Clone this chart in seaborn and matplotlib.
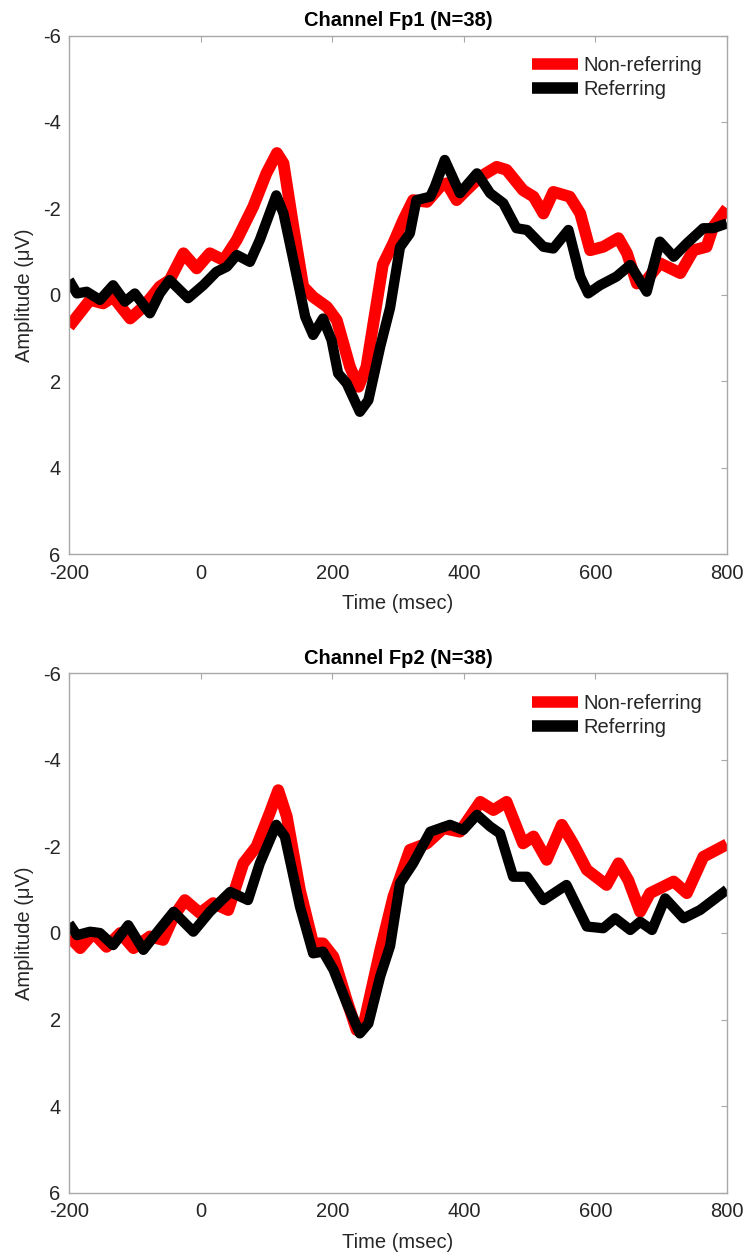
import numpy as np
import pandas as pd
import matplotlib
matplotlib.use("Agg")
import matplotlib.pyplot as plt
from matplotlib.lines import Line2D
import seaborn as sns

# ---------------- data ----------------
fp1_nonref_t = [-200, -168, -148, -133, -107, -87, -62, -47, -26, -6, 14, 35, 55, 80, 100, 116, 126, 141,
                156, 171, 192, 207, 227, 240, 252, 277, 293, 308, 323, 344, 364, 374, 389, 404, 425, 450,
                465, 490, 506, 521, 536, 561, 577, 592, 612, 635, 648, 663, 678, 698, 729, 749, 769, 779, 800]
fp1_nonref_amp = [0.74, 0.12, 0.2, 0.05, 0.55, 0.28, -0.19, -0.34, -0.96, -0.61, -0.96, -0.8, -1.27, -2.04,
                  -2.81, -3.28, -3.04, -1.57, -0.19, 0.05, 0.28, 0.59, 1.67, 2.13, 1.67, -0.7, -1.2, -1.73,
                  -2.19, -2.15, -2.5, -2.58, -2.19, -2.42, -2.73, -2.96, -2.89, -2.42, -2.27, -1.88, -2.38,
                  -2.27, -1.88, -1.03, -1.11, -1.31, -0.96, -0.26, -0.34, -0.73, -0.5, -1.03, -1.11, -1.57, -2.0]

fp1_ref_t = [-200, -188, -173, -153, -133, -115, -100, -77, -62, -47, -19, 4, 24, 40, 55, 75, 90, 115, 126,
             141, 159, 171, 186, 199, 209, 222, 242, 255, 273, 288, 303, 318, 328, 349, 356, 371, 394, 420,
             440, 460, 480, 496, 521, 536, 559, 577, 589, 607, 632, 653, 678, 698, 719, 739, 764, 779, 800]
fp1_ref_amp = [-0.34, -0.03, -0.07, 0.12, -0.22, 0.16, -0.03, 0.43, -0.03, -0.34, 0.08, -0.22, -0.53, -0.65,
               -0.92, -0.76, -1.27, -2.3, -1.88, -0.8, 0.51, 0.93, 0.55, 1.05, 1.82, 2.05, 2.71, 2.44, 1.2,
               0.3, -1.1, -1.42, -2.19, -2.27, -2.5, -3.12, -2.35, -2.81, -2.35, -2.12, -1.54, -1.5, -1.11,
               -1.07, -1.5, -0.42, -0.03, -0.22, -0.42, -0.69, -0.07, -1.23, -0.88, -1.19, -1.54, -1.54, -1.65]

fp2_nonref_t = [-200, -183, -163, -143, -122, -102, -77, -57, -41, -24, -1, 19, 42, 65, 85, 105, 118, 131,
                151, 171, 186, 202, 222, 237, 247, 273, 293, 318, 344, 369, 394, 425, 445, 465, 490, 506,
                526, 549, 566, 587, 617, 635, 650, 668, 683, 719, 739, 764, 800]
fp2_nonref_amp = [0.08, 0.35, 0.0, 0.32, 0.0, 0.35, 0.08, 0.16, -0.38, -0.76, -0.46, -0.69, -0.53, -1.61,
                  -2.0, -2.77, -3.3, -2.69, -0.99, 0.24, 0.24, 0.55, 1.55, 2.24, 2.17, 0.4, -0.84, -1.92,
                  -2.07, -2.42, -2.34, -3.03, -2.84, -3.03, -2.07, -2.23, -1.69, -2.5, -2.07, -1.46, -1.11,
                  -1.61, -1.22, -0.49, -0.92, -1.19, -0.92, -1.76, -2.05]

fp2_ref_t = [-200, -188, -168, -153, -133, -110, -87, -67, -41, -11, 14, 45, 72, 90, 115, 128, 151, 171,
             186, 202, 222, 242, 255, 273, 288, 303, 323, 349, 379, 399, 420, 440, 455, 475, 496, 521, 556,
             587, 612, 630, 653, 668, 686, 706, 734, 759, 800]
fp2_ref_amp = [-0.22, 0.05, -0.03, 0.0, 0.28, -0.18, 0.39, 0.0, -0.49, -0.03, -0.49, -0.95, -0.76, -1.61,
               -2.5, -2.23, -0.61, 0.47, 0.43, 0.85, 1.62, 2.32, 2.09, 1.0, 0.3, -1.15, -1.61, -2.34, -2.5,
               -2.38, -2.73, -2.46, -2.3, -1.3, -1.3, -0.76, -1.11, -0.15, -0.11, -0.34, -0.07, -0.26, -0.07,
               -0.8, -0.34, -0.53, -1.0]

titles = ["Channel Fp1 (N=38)", "Channel Fp2 (N=38)"]
condition_labels = ["Non-referring", "Referring"]
x_ticks = [-200, 0, 200, 400, 600, 800]
y_ticks = [-6, -4, -2, 0, 2, 4, 6]
x_label = "Time (msec)"
y_label = "Amplitude (\u03bcV)"

# ---------------- style ----------------
sns.set_theme(style="white")
plt.rcParams["font.family"] = ["Liberation Sans", "DejaVu Sans"]
plt.rcParams["axes.unicode_minus"] = False

W, H = 747, 1254
fig = plt.figure(figsize=(W / 100, H / 100), dpi=100)
left, right = 69, 727
panels = [(35.5, 554.0), (673.3, 1192.7)]

spine_col = "#a8a8a8"
text_col = "#262626"
colors = {"Non-referring": "#ff0000", "Referring": "#000000"}
widths = {"Non-referring": 8.5, "Referring": 7.4}

series = [
    [(fp1_nonref_t, fp1_nonref_amp), (fp1_ref_t, fp1_ref_amp)],
    [(fp2_nonref_t, fp2_nonref_amp), (fp2_ref_t, fp2_ref_amp)],
]

for i, (top, bot) in enumerate(panels):
    ax = fig.add_axes([left / W, 1 - bot / H, (right - left) / W, (bot - top) / H])
    for lab, (t, a) in zip(condition_labels, series[i]):
        df = pd.DataFrame({"Time": t, "Amplitude": a})
        sns.lineplot(data=df, x="Time", y="Amplitude", ax=ax, color=colors[lab],
                     linewidth=widths[lab], estimator=None, sort=False, legend=False)
    for ln in ax.lines:
        ln.set_solid_joinstyle("round")
        ln.set_solid_capstyle("butt")
    ax.set_xlim(-200, 800)
    ax.set_ylim(6, -6)
    ax.set_xticks(x_ticks)
    ax.set_yticks(y_ticks)
    ax.set_xticklabels([str(v) for v in x_ticks])
    ax.set_yticklabels([str(v) for v in y_ticks])
    for s in ax.spines.values():
        s.set_visible(True)
        s.set_color(spine_col)
        s.set_linewidth(1.0)
    ax.tick_params(axis="both", direction="in", top=True, right=True, length=4.5, width=0.8,
                   color=spine_col, labelsize=14.5, labelcolor=text_col)
    ax.tick_params(axis="x", pad=7)
    ax.tick_params(axis="y", pad=6)
    ax.set_xlabel(x_label, fontsize=14.5, color=text_col, labelpad=8)
    ax.set_ylabel(y_label, fontsize=14.5, color=text_col, labelpad=6)
    ax.set_title(titles[i], fontsize=14.5, fontweight="bold", color="black", pad=7)
    handles = [Line2D([], [], color=colors[l], lw=8.3, solid_capstyle="butt") for l in condition_labels]
    ax.legend(handles, condition_labels, loc="upper left", bbox_to_anchor=(0.703, 0.96),
              frameon=False, fontsize=14.5, handlelength=2.3, handletextpad=0.25,
              labelspacing=0.25, borderpad=0, borderaxespad=0, labelcolor=text_col)

fig.savefig("out.png", dpi=100)
